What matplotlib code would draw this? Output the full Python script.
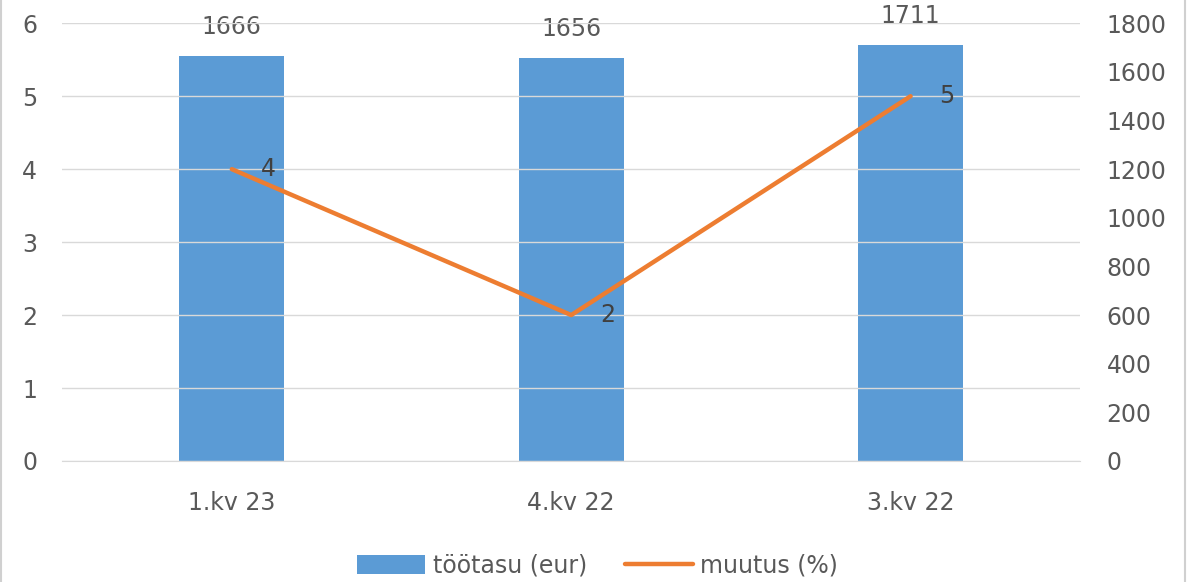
import matplotlib
matplotlib.use("Agg")
import matplotlib.pyplot as plt
from matplotlib.lines import Line2D
from matplotlib.patches import Patch

kvartal = ["1.kv 23", "4.kv 22", "3.kv 22"]
tootasu = [1666, 1656, 1711]
muutus = [4, 2, 5]

bar_col = "#5B9BD5"
line_col = "#ED7D31"
txt_col = "#595959"
grid_col = "#D9D9D9"

plt.rcParams['font.family'] = ['DejaVu Sans']

fig = plt.figure(figsize=(11.95, 5.82), dpi=100)
ax = fig.add_axes([0.052, 0.208, 0.852, 0.752])
ax2 = ax.twinx()

x = range(len(kvartal))

# bars on the right axis, line on the left axis
ax2.bar(x, tootasu, width=0.31, color=bar_col, zorder=2)
ax2.set_ylim(0, 1800)
ax2.set_yticks(range(0, 1801, 200))
for i, v in enumerate(tootasu):
    ax2.annotate(str(v), (i, v), xytext=(0, 17), textcoords='offset pixels',
                 ha='center', va='bottom', fontsize=17, color=txt_col)

ax.set_ylim(0, 6)
ax.set_yticks(range(0, 7))
ax.grid(axis='y', color=grid_col, linewidth=1)
ax.set_axisbelow(True)
ax.set_xlim(-0.5, 2.5)
ax.set_xticks(list(x))
ax.set_xticklabels(kvartal)

# line must be drawn on top of the bars
ax.set_zorder(ax2.get_zorder() + 1)
ax.patch.set_visible(False)
ax.plot(list(x), muutus, color=line_col, linewidth=3.2, solid_capstyle='round', zorder=3)
for i, v in enumerate(muutus):
    ax.annotate(str(v), (i, v), xytext=(29, 0), textcoords='offset pixels',
                ha='left', va='center', fontsize=17, color="#404040")

for a in (ax, ax2):
    for s in a.spines.values():
        s.set_visible(False)
ax.spines['bottom'].set_visible(True)
ax.spines['bottom'].set_color(grid_col)
ax.tick_params(axis='y', length=0, pad=18, labelsize=17, labelcolor=txt_col)
ax.tick_params(axis='x', length=0, pad=22, labelsize=17, labelcolor=txt_col)
ax2.tick_params(axis='y', which='both', length=0, pad=19, labelsize=17,
                labelcolor=txt_col)
ax2.yaxis.set_tick_params(pad=19)

handles = [Patch(facecolor=bar_col, label="töötasu (eur)"),
           Line2D([0], [0], color=line_col, linewidth=3.2, solid_capstyle='round', label="muutus (%)")]
fig.legend(handles=handles, loc='center', bbox_to_anchor=(0.5, 0.028), ncol=2,
           frameon=False, fontsize=17, labelcolor=txt_col, handlelength=2.9,
           handleheight=0.8, handletextpad=0.3, columnspacing=1.6)

# thin frame around the chart
fig.add_artist(Line2D([0.001, 0.001], [0, 1], color="#D0D0D0", linewidth=1.5))
fig.add_artist(Line2D([0.992, 0.992], [0, 1], color="#D0D0D0", linewidth=1.5))

fig.savefig("out.png", dpi=100)
